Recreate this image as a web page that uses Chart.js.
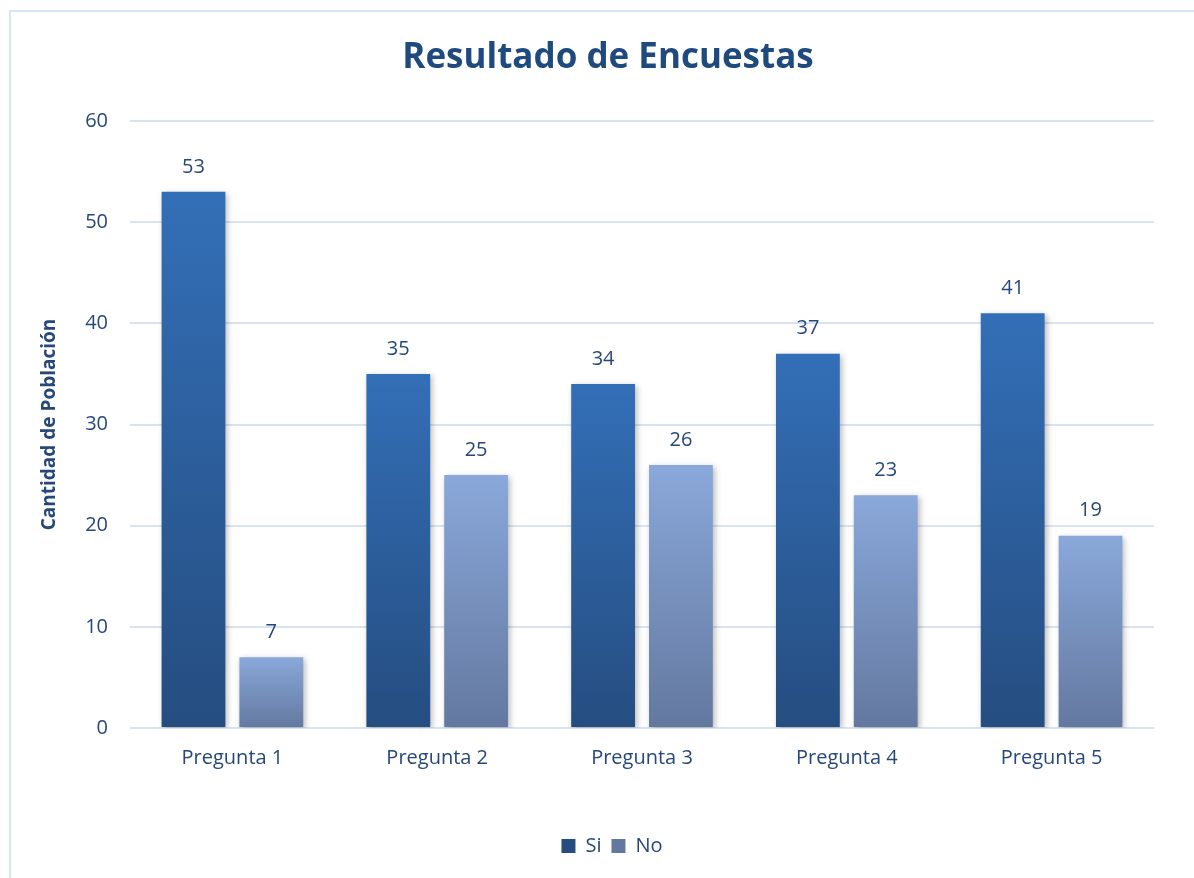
<!DOCTYPE html>
<html lang="es">
<head>
<meta charset="UTF-8">
<script src="https://cdn.jsdelivr.net/npm/chart.js@4.4.0/dist/chart.umd.min.js"></script>
<title>Resultado de Encuestas</title>
<style>
    html, body { margin: 0; padding: 0; background: #fff; }
    #wrap { width: 1194px; height: 878px; position: relative; }
</style>
</head>
<body>
<div id="wrap"><canvas id="chart"></canvas></div>
<script>
    // datos
    var preguntas = ["Pregunta 1", "Pregunta 2", "Pregunta 3", "Pregunta 4", "Pregunta 5"];
    var si = [53, 35, 34, 37, 41];
    var no = [7, 25, 26, 23, 19];
    var ticksY = [0, 10, 20, 30, 40, 50, 60];

    var azulTexto = "#264879";
    var lineaGris = "#D9E4F2";

    // degradado por barra (de arriba hacia abajo)
    function degradado(arriba, abajo, solido) {
        return function (c) {
            var chart = c.chart;
            if (c.type !== "data" || !chart.chartArea) return solido;
            var y = chart.scales.y;
            var top = y.getPixelForValue(c.raw);
            var bottom = y.getPixelForValue(0);
            if (bottom - top < 1) return solido;
            var g = chart.ctx.createLinearGradient(0, top, 0, bottom);
            g.addColorStop(0, arriba);
            g.addColorStop(1, abajo);
            return g;
        };
    }

    // marco del grafico, sombra de barras y centrado de titulo/leyenda
    var marco = {
        id: "marco",
        afterLayout: function (chart) {
            // en el original titulo y leyenda estan centrados en todo el marco
            chart.titleBlock.left += 17;
            chart.titleBlock.right += 17;
            chart.legend.left += 21;
            chart.legend.right += 21;
        },
        beforeDraw: function (chart) {
            var ctx = chart.ctx;
            ctx.save();
            ctx.strokeStyle = lineaGris;
            ctx.lineWidth = 2;
            ctx.beginPath();
            ctx.moveTo(10, 878);
            ctx.lineTo(10, 11);
            ctx.lineTo(1194, 11);
            ctx.stroke();
            ctx.restore();
        },
        beforeDatasetsDraw: function (chart) {
            var ctx = chart.ctx;
            ctx.save();
            ctx.shadowColor = "rgba(0,0,0,0.28)";
            ctx.shadowBlur = 6;
            ctx.shadowOffsetX = 2;
            ctx.shadowOffsetY = 2;
        },
        afterDatasetsDraw: function (chart) {
            chart.ctx.restore();
        }
    };

    // etiquetas de valor encima de cada barra
    var etiquetas = {
        id: "etiquetas",
        afterDatasetsDraw: function (chart) {
            var ctx = chart.ctx;
            ctx.save();
            ctx.font = "20px 'Open Sans'";
            ctx.fillStyle = azulTexto;
            ctx.textAlign = "center";
            ctx.textBaseline = "middle";
            chart.data.datasets.forEach(function (ds, i) {
                chart.getDatasetMeta(i).data.forEach(function (bar, j) {
                    ctx.fillText(ds.data[j], bar.x, bar.y - 25);
                });
            });
            ctx.restore();
        }
    };

    var ctx = document.getElementById("chart").getContext("2d");

    new Chart(ctx, {
        type: "bar",
        data: {
            labels: preguntas,
            datasets: [
                {
                    label: "Si",
                    data: si,
                    backgroundColor: degradado("#336FB7", "#254D80", "#2E62A2")
                },
                {
                    label: "No",
                    data: no,
                    backgroundColor: degradado("#8AA8DA", "#63789F", "#8099C8")
                }
            ]
        },
        options: {
            responsive: true,
            maintainAspectRatio: false,
            animation: false,
            categoryPercentage: 0.76,
            barPercentage: 0.82,
            layout: { padding: { left: 28, right: 40, top: 0, bottom: 12 } },
            plugins: {
                title: {
                    display: true,
                    text: "Resultado de Encuestas",
                    color: "#1F4A7E",
                    font: { family: "'Open Sans'", size: 35, weight: "bold" },
                    padding: { top: 37, bottom: 42 }
                },
                legend: {
                    position: "bottom",
                    labels: {
                        color: azulTexto,
                        font: { family: "'Open Sans'", size: 20 },
                        boxWidth: 14,
                        boxHeight: 14,
                        padding: 10
                    }
                },
                tooltip: { enabled: false }
            },
            scales: {
                x: {
                    grid: { display: false },
                    border: { display: false },
                    ticks: {
                        color: azulTexto,
                        font: { family: "'Open Sans'", size: 20 },
                        padding: 10
                    },
                    afterFit: function (s) { s.height = 98; }
                },
                y: {
                    min: 0,
                    max: 60,
                    afterBuildTicks: function (s) {
                        s.ticks = ticksY.map(function (v) { return { value: v }; });
                    },
                    grid: { color: lineaGris, lineWidth: 2, drawTicks: false },
                    border: { display: false },
                    ticks: {
                        color: azulTexto,
                        font: { family: "'Open Sans'", size: 20 },
                        padding: 22
                    },
                    title: {
                        display: true,
                        text: "Cantidad de Población",
                        color: azulTexto,
                        font: { family: "'Open Sans'", size: 19, weight: "bold" },
                        padding: { top: 10, bottom: 6 }
                    },
                    afterFit: function (s) { s.width = 102; }
                }
            }
        },
        plugins: [marco, etiquetas]
    });
</script>
</body>
</html>
